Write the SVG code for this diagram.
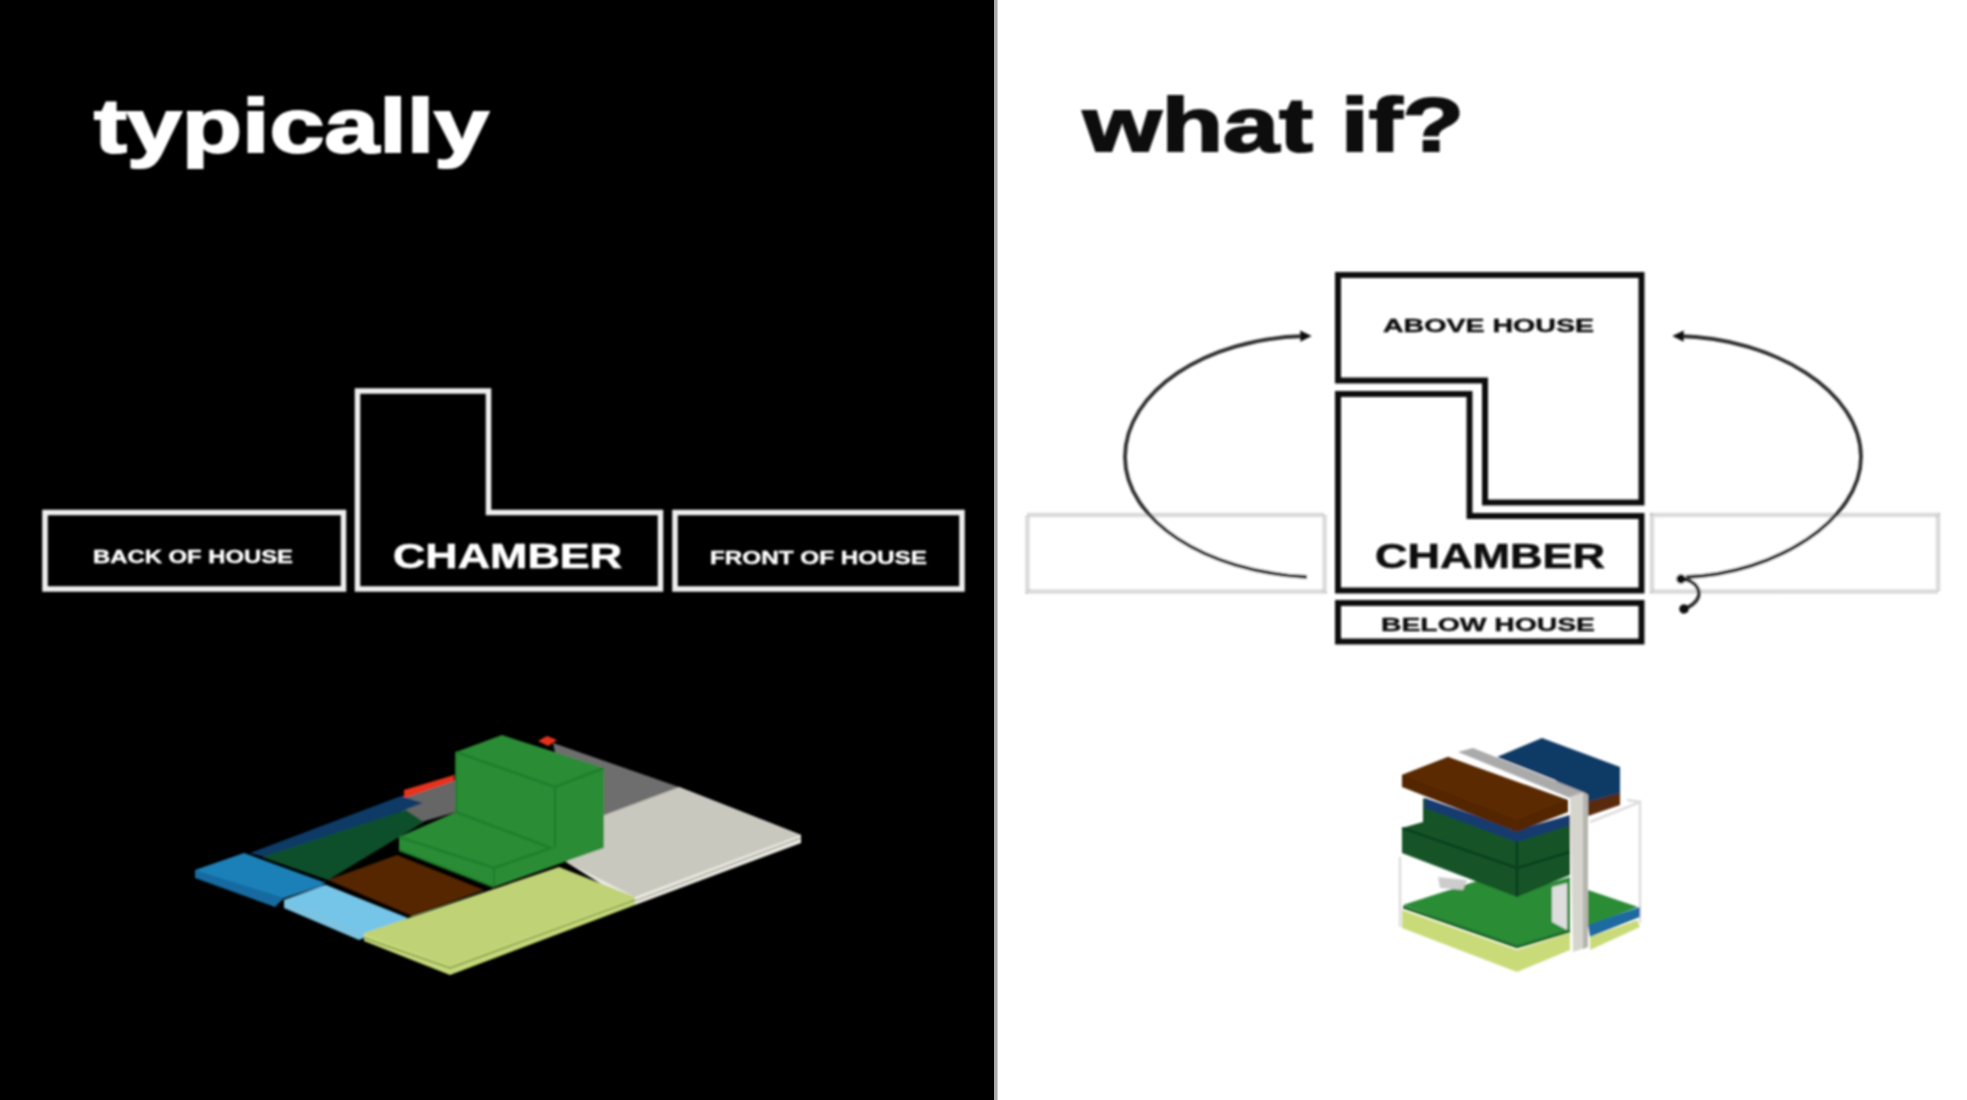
<svg xmlns="http://www.w3.org/2000/svg" width="1967" height="1100" viewBox="0 0 1967 1100">
<style>
text{font-family:"Liberation Sans",Arial,sans-serif;font-weight:700}
.title{font-size:76px;stroke-width:2px}
.big{font-size:35px;stroke-width:.6px}
.small{font-size:19px;stroke-width:.4px}
.w{fill:#fff;stroke:#fff}
.k{fill:#111;stroke:#111}
.bw{fill:none;stroke:#eee;stroke-width:5.5}
.bk{fill:none;stroke:#111;stroke-width:6}
.ghost{fill:#fff;stroke:#c8c8c8;stroke-width:4.5;stroke-dasharray:2 1}
.conn{fill:none;stroke:#333;stroke-width:3.8}
.g{fill:#2a8c35}
.dg{fill:#125328}
.ln{fill:none;stroke-width:2}
</style>
<defs>
<filter id="soft" x="-2%" y="-2%" width="104%" height="104%"><feGaussianBlur stdDeviation="1.1"/></filter>
<marker id="dot" viewBox="0 0 6 6" refX="3" refY="3" markerWidth="3" markerHeight="3" orient="auto"><path d="M0 0L6 3L0 6Z" fill="#111"/></marker>
<marker id="tick" viewBox="0 0 6 6" refX="3" refY="3" markerWidth="2.500" markerHeight="2.500" orient="auto"><circle cx="3" cy="3" r="3" fill="#111"/></marker>
</defs>
<rect width="1967" height="1100" fill="#fff"/>
<rect width="994" height="1100" fill="#000"/>
<rect x="994" width="3.5" height="1100" fill="#a8a8a8"/>
<g filter="url(#soft)">
<g id="title-typically"><text class="title w" x="94" y="152" textLength="395" lengthAdjust="spacingAndGlyphs">typically</text></g>
<g id="title-whatif"><text class="title k" x="1083" y="151" textLength="381" lengthAdjust="spacingAndGlyphs">what if?</text></g>

<g id="back-of-house"><rect class="bw" x="45" y="512.500" width="298.500" height="76.500"/><text class="small w" x="93" y="563" textLength="200" lengthAdjust="spacingAndGlyphs">BACK OF HOUSE</text></g>
<g id="chamber-left"><path class="bw" d="M357.500 391H488.500V512.500H660.500V589H357.500Z"/><text class="big w" x="393" y="568" textLength="229" lengthAdjust="spacingAndGlyphs">CHAMBER</text></g>
<g id="front-of-house"><rect class="bw" x="675" y="512.500" width="287" height="76.500"/><text class="small w" x="710" y="564" textLength="217" lengthAdjust="spacingAndGlyphs">FRONT OF HOUSE</text></g>

<g id="ghost-left"><rect class="ghost" x="1027.500" y="515" width="297" height="76.500"/></g>
<g id="ghost-right"><rect class="ghost" x="1652" y="515" width="286" height="76.500"/></g>
<g id="above-house"><path class="bk" d="M1338 275H1641.500V502.500H1485V380.500H1338Z"/><text class="small k" x="1383" y="331.500" textLength="211" lengthAdjust="spacingAndGlyphs">ABOVE HOUSE</text></g>
<g id="chamber-right"><path class="bk" d="M1338 394H1469.500V516H1641.500V590.500H1338Z"/><text class="big k" x="1375" y="568" textLength="230" lengthAdjust="spacingAndGlyphs">CHAMBER</text></g>
<g id="below-house"><rect class="bk" x="1338" y="603" width="303.500" height="38.500"/><text class="small k" x="1381" y="630.500" textLength="214" lengthAdjust="spacingAndGlyphs">BELOW HOUSE</text></g>

<g id="connectors">
<path class="conn" marker-end="url(#dot)" d="M1307 577C1205 572 1125 520 1125 457C1125 392 1205 338 1306 336"/>
<path class="conn" marker-end="url(#dot)" d="M1686 577C1775 574 1861 520 1861 457C1861 392 1775 338 1678 336"/>
<path class="conn" marker-start="url(#tick)" marker-end="url(#tick)" d="M1681 579C1700 580 1708 600 1684 609"/>
</g>

<g id="iso-typically">
<path fill="#6e6e6e" d="M553 743L679 787L604 815L560 775Z"/>
<path fill="#666" d="M401 817L401 797L456 780V812L418 823Z"/>
<path fill="#e8331f" d="M404 790L454 775V781L404 798Z"/>
<path fill="#e8331f" d="M538 741L547 736L557 740L548 746Z"/>
<path fill="#ecebe4" d="M566 862L679 787L801 835V843L635 905Z"/>
<path fill="#c9c8bf" d="M679 787L604 815V848L566 862L635 897L801 835Z"/>
<path fill="#0e3b66" d="M250 853L401 796L423 803L275 860Z"/>
<path fill="#0f4f2a" d="M262 857L406 810L424 822L328 880Z"/>
<path fill="#552806" d="M328 880L397 855L484 890L412 916Z"/>
<path fill="#136ba0" d="M195 870V878L275 907L284 898L326 885Z"/>
<path fill="#1a80b8" d="M195 870L244 853L326 883L284 898Z"/>
<path fill="#7cc3e2" d="M284 900V908L359 940L406 919L326 885Z"/>
<path fill="#75c5e8" d="M284 900L326 885L408 918L364 933Z"/>
<path fill="#c3d878" d="M364 933V941L450 975L635 905V897Z"/>
<path fill="#bfd274" d="M364 933L559 867L635 897L450 965Z"/>
<path fill="none" stroke="#8d9f55" stroke-width="1.800" d="M364 938L450 968L635 900"/>
<path fill="none" stroke="#adac9f" stroke-width="1.800" d="M635 901L801 838"/>
<path class="g" d="M456 752L502 735L604 768V848L494 887L399 850V837L456 812Z"/>
<path class="ln" stroke="#1f7a2c" d="M456 752L555 787L604 768M555 787V847M456 812L551 848L494 868L399 837M494 868V887M456 752V812M399 850L494 887"/>
</g>

<g id="iso-whatif">
<path fill="none" stroke="#ddd" stroke-width="2.500" d="M1590 822L1640 802V923M1627 800L1640 802M1400 857V927"/>
<path fill="#c9db78" d="M1402 910L1517 950L1570 933V950L1517 972L1402 928Z"/>
<path fill="#c9db78" d="M1590 937L1637 920L1640 927L1590 950Z"/>
<path class="g" d="M1403 905L1480 880L1517 893L1570 877V931L1517 947Z"/>
<path fill="none" stroke="#1d6a2c" stroke-width="3" d="M1403 907L1517 947L1570 931"/>
<path class="g" d="M1588 890L1638 907L1597 923L1588 927Z"/>
<path fill="#1c6aa0" d="M1588 925L1640 907V917L1590 937Z"/>
<path fill="#ddd" d="M1552 887L1567 883V930L1552 922Z"/>
<path fill="#ccc" d="M1438 877L1467 880L1463 890L1440 888Z"/>
<path class="dg" d="M1402 828L1423 822V798L1517 833L1570 817V875L1517 897L1402 853Z"/>
<path fill="none" stroke="#0c3d1d" stroke-width="2.200" d="M1402 828L1517 868L1570 852M1517 840V897"/>
<path fill="#123a6e" d="M1425 798L1517 830L1570 815V825L1517 842L1425 808Z"/>
<path fill="#0e3b66" d="M1497 757L1542 738L1620 767V795L1588 807L1555 780Z"/>
<path fill="#5a2b08" d="M1586 802L1620 793V805L1588 816Z"/>
<path fill="#aaa" d="M1458 752L1473 748L1583 792L1570 798Z"/>
<path fill="#522606" d="M1402 775V787L1517 832L1568 812V800L1448 757Z"/>
<path fill="#5c2a06" d="M1402 775L1448 757L1567 800L1517 820Z"/>
<path fill="#d5d4cd" d="M1570 797L1583 792L1588 795V947L1573 952Z"/>
<path fill="#b5b5ad" d="M1583 793L1588 795V947L1583 949Z"/>
</g>
</g>
</svg>
